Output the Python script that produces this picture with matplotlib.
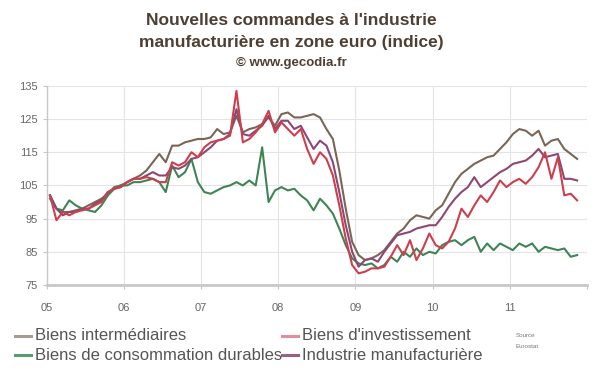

# Nouvelles commandes a l'industrie manufacturiere en zone euro (indice)
# monthly index, Jan 2005 - Nov 2011

import numpy as np
import matplotlib
matplotlib.use('Agg')
import matplotlib.pyplot as plt

# Year labels on the x axis
years = [2005, 2006, 2007, 2008, 2009, 2010, 2011]
year_labels = ['05', '06', '07', '08', '09', '10', '11']

# Biens intermediaires (one row per year)
intermediaires = (
  [102, 98, 97, 97, 97.5, 98, 99, 100, 101, 102.5, 104.5, 105] +
  [106, 107, 108, 109.5, 112, 114.5, 112, 117, 117, 118, 118.5, 119] +
  [119, 119.5, 122, 120.5, 121, 126, 121, 122, 122.5, 123.5, 125.5, 123] +
  [126.5, 127, 125.5, 125.5, 126, 126.5, 125.5, 122, 119, 109.5, 98, 88] +
  [84, 82.5, 83, 84, 85.5, 88, 90.5, 92, 94.5, 96, 95.5, 95] +
  [97.5, 99, 102.5, 106, 108.5, 110, 111.5, 112.5, 113.5, 114, 116, 118] +
  [120.5, 122, 121.5, 120, 121.5, 117, 118.5, 119, 116, 114.5, 113]
)

# Biens d'investissement
investissement = (
  [102, 94.5, 97, 96, 97, 97.5, 98, 99, 100, 103, 104, 104.5] +
  [106, 107, 107, 107.5, 107, 106, 106, 112, 111, 112, 115, 113.5] +
  [116.5, 118, 118.5, 119, 120, 133.5, 118, 119, 121, 123.5, 127.5, 121] +
  [124, 122, 120, 122, 116, 111.5, 115, 113, 108, 99, 89, 81] +
  [78.5, 79, 80, 80, 80.5, 83.5, 87, 84, 88.5, 82.5, 86, 90.5] +
  [87, 86, 88, 92, 98, 95.5, 99, 102, 100, 103, 106.5, 104.5] +
  [106, 107, 105.5, 107.5, 110.5, 115, 107, 113.5, 102, 102.5, 100.5]
)

# Biens de consommation durables
durables = (
  [101, 98, 97.5, 100.5, 99, 98, 97.5, 97, 99, 102, 104, 105] +
  [105, 106, 106, 106.5, 107, 106, 103, 111, 107.5, 109, 113, 106] +
  [103, 102.5, 103.5, 104.5, 105, 106, 105, 106.5, 105, 116.5, 100, 103.5] +
  [104.5, 103.5, 104, 102, 100.5, 97.5, 101, 99, 96.5, 92, 87, 83] +
  [81.5, 81, 81.5, 80, 81, 83.5, 82, 85, 83.5, 86, 84, 85] +
  [84.5, 87, 88, 88.5, 87, 88.5, 89.5, 85, 87.5, 85.5, 87.5, 86.5] +
  [85.5, 87.5, 86.5, 87.5, 85, 86.5, 86, 85.5, 86, 83.5, 84]
)

# Industrie manufacturiere
manufacturiere = (
  [102, 98, 96, 97, 97, 98, 98, 99.5, 100.5, 103, 104, 104.5] +
  [106, 107, 107, 108, 109, 108, 108, 110.5, 110, 111, 113, 113.5] +
  [115, 116.5, 118.5, 119, 120.5, 128, 120.5, 120, 121.5, 123, 126, 122] +
  [124.5, 124.5, 122, 123, 119.5, 116, 118.5, 117, 112, 103, 93, 85] +
  [80.5, 82.5, 83, 82, 85, 87.5, 90, 90.5, 91, 92, 92.5, 93] +
  [93, 95.5, 98.5, 101, 103, 104.5, 107.5, 104.5, 106, 107.5, 109, 110] +
  [111.5, 112, 112.5, 114, 116, 113.5, 114, 114.5, 107, 107, 106.5]
)

# Month positions in decimal years (middle of the month)
n = len(intermediaires)
dates = 2005 + (np.arange(n) + 0.5) / 12.0

plt.rcParams['font.family'] = ['Liberation Sans', 'DejaVu Sans']

fig = plt.figure(figsize = (6, 3.72), dpi = 100)
ax = fig.add_axes([0.078, 0.234, 0.9, 0.535])

brown = '#7a6656'
red = '#cc3f4c'
green = '#3f8456'
purple = '#8e4775'

ax.plot(dates, intermediaires, color = brown, lw = 1.5, zorder = 3)
ax.plot(dates, durables, color = green, lw = 1.5, zorder = 3)
ax.plot(dates, manufacturiere, color = purple, lw = 1.5, zorder = 4)
ax.plot(dates, investissement, color = red, lw = 1.5, zorder = 5)

# Axes, grid and ticks
ax.set_xlim(2005, 2012)
ax.set_ylim(75, 135)
ax.set_yticks(np.arange(75, 136, 10))
ax.set_xticks(years + [2012])
ax.set_xticklabels(year_labels + [''])
ax.grid(True, color = '#e4e4e4', lw = 0.8)
ax.set_axisbelow(True)
for s in ['top', 'right']:
  ax.spines[s].set_visible(False)
ax.spines['left'].set_color('#c8c8c8')
ax.spines['bottom'].set_color('#c8c8c8')
ax.spines['bottom'].set_linewidth(2)
ax.spines['left'].set_linewidth(1)
ax.tick_params(axis = 'both', colors = '#c8c8c8', labelcolor = '#666666', labelsize = 8, length = 3)
ax.tick_params(axis = 'x', pad = 10)

# Titles
title_col = '#4f3f33'
fig.text(0.485, 0.945, "Nouvelles commandes à l'industrie", ha = 'center', va = 'center',
         fontsize = 12.5, fontweight = 'bold', color = title_col)
fig.text(0.485, 0.885, "manufacturière en zone euro (indice)", ha = 'center', va = 'center',
         fontsize = 12.5, fontweight = 'bold', color = title_col)
fig.text(0.485, 0.832, "© www.gecodia.fr", ha = 'center', va = 'center',
         fontsize = 9.5, fontweight = 'bold', color = title_col)

# Legend, drawn by hand in two columns
legend_items = [
  ('Biens intermédiaires', '#a89c90', 0.025, 0.098),
  ("Biens d'investissement", '#de8f99', 0.47, 0.098),
  ('Biens de consommation durables', '#5a9a6e', 0.025, 0.045),
  ('Industrie manufacturière', '#9a5f86', 0.47, 0.045),
]
for label, col, lx, ly in legend_items:
  fig.add_artist(plt.Line2D([lx, lx + 0.027], [ly, ly], color = col, lw = 2.2, transform = fig.transFigure))
  fig.text(lx + 0.033, ly, label, ha = 'left', va = 'center', fontsize = 12, color = '#555555')

fig.text(0.86, 0.098, 'Source', ha = 'left', va = 'center', fontsize = 4.5, color = '#777777')
fig.text(0.86, 0.068, 'Eurostat', ha = 'left', va = 'center', fontsize = 4.5, color = '#777777')

fig.savefig('out.png', dpi = 100, facecolor = 'white')
